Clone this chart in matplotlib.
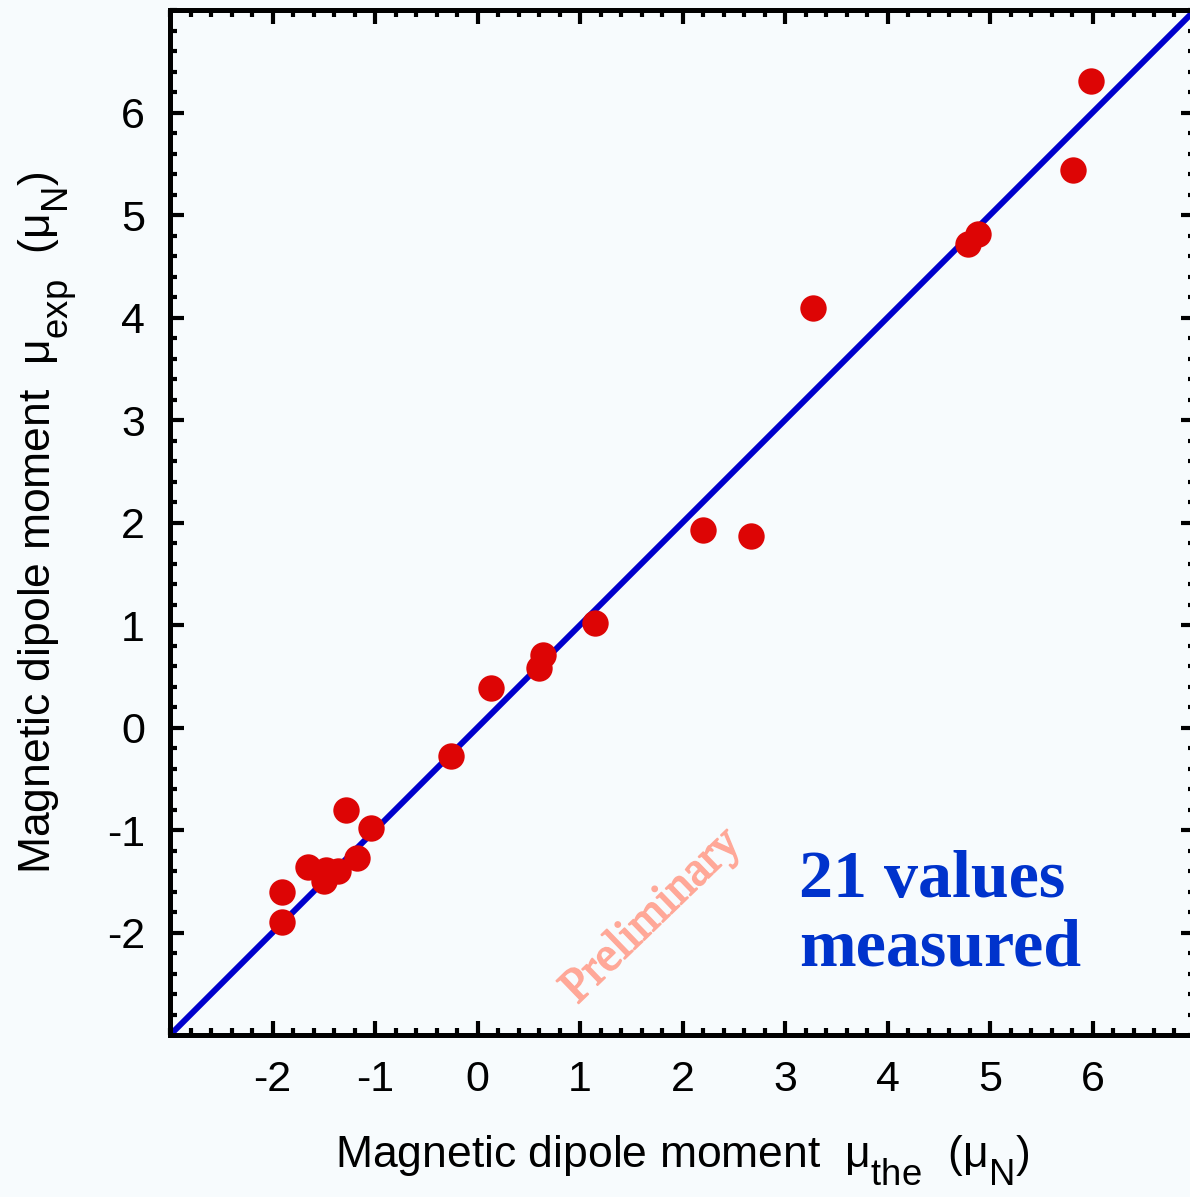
import matplotlib
matplotlib.use("Agg")
import matplotlib.pyplot as plt
import matplotlib.patheffects as pe
import numpy as np
from matplotlib.ticker import MultipleLocator

plt.rcParams['font.family'] = ['Liberation Sans', 'DejaVu Sans']
plt.rcParams['mathtext.fontset'] = 'custom'
plt.rcParams['mathtext.rm'] = 'Liberation Sans'
plt.rcParams['mathtext.it'] = 'Liberation Sans:italic'
plt.rcParams['axes.unicode_minus'] = False

# bigger, lower subscripts like the original (private knobs, so guard them)
try:
    import matplotlib._mathtext as _mt
    _mt.SHRINK_FACTOR = 0.82
    _mt.FontConstantsBase.sub1 = 0.75
    _mt.FontConstantsBase.sub2 = 0.75
except Exception:
    pass

mu_the = [5.99, 5.81, 4.88, 4.79, 3.27, 2.20, 2.67, 1.15, 0.64, 0.60, 0.13,
          -0.26, -1.28, -1.04, -1.18, -1.36, -1.65, -1.50, -1.48, -1.91, -1.91]
mu_exp = [6.31, 5.44, 4.82, 4.72, 4.09, 1.93, 1.87, 1.02, 0.71, 0.58, 0.39,
          -0.28, -0.80, -0.98, -1.27, -1.40, -1.36, -1.50, -1.39, -1.60, -1.90]
diag = [-3, 7]
xticks = [-2, -1, 0, 1, 2, 3, 4, 5, 6]
yticks = [-2, -1, 0, 1, 2, 3, 4, 5, 6]

bg = '#f7fbfd'
fig = plt.figure(figsize=(11.9, 11.97), dpi=100, facecolor=bg)
ax = fig.add_axes([0.1429, 0.1353, 0.8613, 0.8563], facecolor=bg)

ax.plot(diag, diag, color='#0000cc', lw=4.3, zorder=2)
ax.plot(mu_the, mu_exp, 'o', color='#dd0505', ms=19, mew=0, zorder=3)

ax.set_xlim(-3, 7)
ax.set_ylim(-3, 7)
ax.set_xticks(xticks)
ax.set_yticks(yticks)
ax.xaxis.set_minor_locator(MultipleLocator(0.2))
ax.yaxis.set_minor_locator(MultipleLocator(0.2))
ax.tick_params(which='both', direction='in', top=True, right=True,
               width=3, labelsize=31, pad=18, color='black')
ax.tick_params(which='major', length=10)
ax.tick_params(which='minor', length=5)
for s in ax.spines.values():
    s.set_linewidth(3.6)

ax.set_xlabel(r"Magnetic dipole moment  μ$_{\rm the}$  (μ$_{\rm N}$)", fontsize=32, labelpad=24)
ax.set_ylabel(r"Magnetic dipole moment  μ$_{\rm exp}$  (μ$_{\rm N}$)", fontsize=32, labelpad=20)

ax.text(3.14, -2.32, "21 values\nmeasured", color='#0033cc', fontsize=49,
        fontweight='bold', family=['Liberation Serif', 'DejaVu Serif'],
        linespacing=1.15, va='baseline', ha='left')
ax.text(1.70, -1.84, "Preliminary", color='#ffa898', fontsize=35,
        family=['Liberation Serif', 'DejaVu Serif'], rotation=44,
        ha='center', va='center', rotation_mode='anchor',
        path_effects=[pe.withStroke(linewidth=1.2, foreground='#ffa898')])

fig.savefig("out.png", dpi=100, facecolor=bg)
